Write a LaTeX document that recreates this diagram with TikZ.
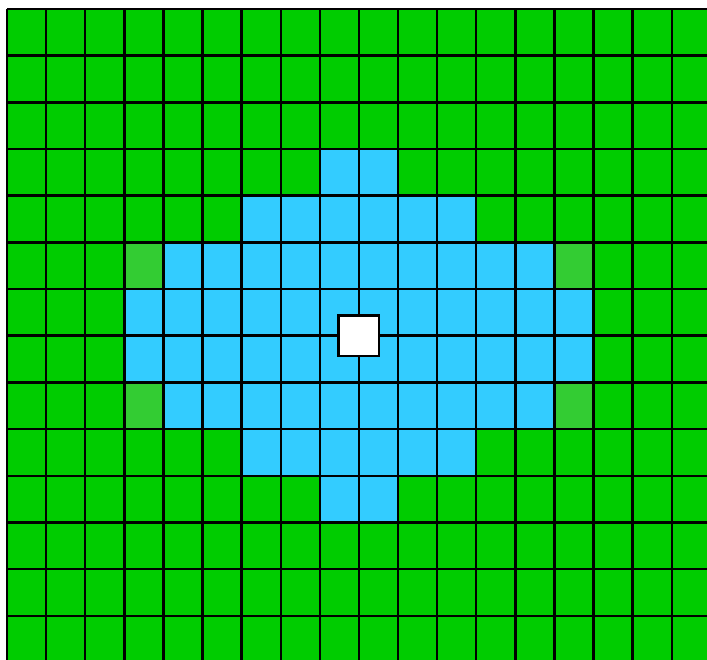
\documentclass[tikz,border=0pt]{standalone}
\definecolor{grn}{HTML}{00CC00}
\definecolor{blu}{HTML}{33CCFF}
\definecolor{lgr}{HTML}{33CC33}
\begin{document}
\begin{tikzpicture}[x=39.1pt,y=-46.67pt,
  gridline/.style={black,line width=2.4pt},
  bluecell/.style={fill=blu},
  lightcell/.style={fill=lgr},
  centre/.style={draw=black,fill=white,line width=2.4pt,minimum width=40.5pt,minimum height=40.5pt,inner sep=0pt}]
\useasboundingbox (-0.179,-0.193) rectangle (17.903,13.928);
\clip (-0.179,-0.193) rectangle (17.903,13.928);
\fill[grn] (0,0) rectangle (18,14);
% blue region
\foreach \r/\a/\b in {3/8/9,4/6/11,5/4/13,6/3/14,7/3/14,8/4/13,9/6/11,10/8/9}{
  \foreach \c in {\a,...,\b}{
    \fill[bluecell] (\c,\r) rectangle ++(1,1);
  }
}
% lighter green corners
\foreach \c/\r in {3/5,14/5,3/8,14/8}{
  \fill[lightcell] (\c,\r) rectangle ++(1,1);
}
% grid lines
\foreach \c in {0,...,18}{
  \draw[gridline] (\c,0) -- (\c,14);
}
\foreach \r in {0,...,14}{
  \draw[gridline] (0,\r) -- (18,\r);
}
\node[centre] (hole) at (9,7) {};
\end{tikzpicture}
\end{document}
